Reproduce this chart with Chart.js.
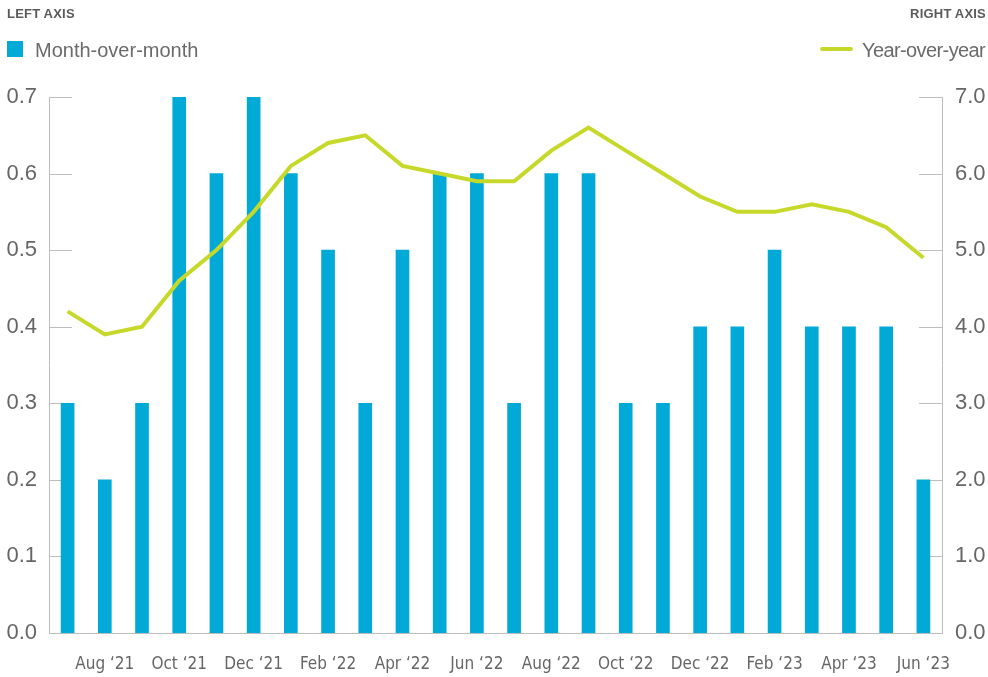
<!DOCTYPE html>
<html>
<head>
<meta charset="utf-8">
<script src="https://cdn.jsdelivr.net/npm/chart.js@4"></script>
<style>
  html, body { margin: 0; padding: 0; background: #fff; overflow: hidden; }
  #wrap { position: relative; width: 988px; height: 677px; overflow: hidden; font-family: 'Liberation Sans', Arial, sans-serif; color: #666; }
  .axisTitle { position: absolute; top: 6px; font-size: 13px; font-weight: bold; color: #5b5b5b; letter-spacing: 0.2px; }
  .leg { position: absolute; top: 39px; font-size: 20px; color: #6a6a6a; white-space: nowrap; }
  .sw { position: absolute; }
  canvas { position: absolute; left: 0; top: 0; }
</style>
</head>
<body>
<div id="wrap">
  <canvas id="myChart" width="988" height="677"></canvas>
  <div class="axisTitle" style="left:7px">LEFT AXIS</div>
  <div class="axisTitle" style="right:2px">RIGHT AXIS</div>
  <div class="sw" style="left:7px;top:41px;width:16px;height:16px;background:#00a9d6"></div>
  <div class="leg" style="left:35px">Month-over-month</div>
  <div class="sw" style="left:820px;top:47px;width:33px;height:4px;border-radius:2px;background:#c6d92a"></div>
  <div class="leg" style="left:862px;letter-spacing:-0.6px">Year-over-year</div>
</div>
<script>
const months = ['Jul \u201821', 'Aug \u201821', 'Sep \u201821', 'Oct \u201821', 'Nov \u201821', 'Dec \u201821',
  'Jan \u201822', 'Feb \u201822', 'Mar \u201822', 'Apr \u201822', 'May \u201822', 'Jun \u201822',
  'Jul \u201822', 'Aug \u201822', 'Sep \u201822', 'Oct \u201822', 'Nov \u201822', 'Dec \u201822',
  'Jan \u201823', 'Feb \u201823', 'Mar \u201823', 'Apr \u201823', 'May \u201823', 'Jun \u201823'];
const momValues = [0.3, 0.2, 0.3, 0.7, 0.6, 0.7, 0.6, 0.5, 0.3, 0.5, 0.6, 0.6,
  0.3, 0.6, 0.6, 0.3, 0.3, 0.4, 0.4, 0.5, 0.4, 0.4, 0.4, 0.2];
const yoyValues = [4.2, 3.9, 4.0, 4.6, 5.0, 5.5, 6.1, 6.4, 6.5, 6.1, 6.0, 5.9,
  5.9, 6.3, 6.6, 6.3, 6.0, 5.7, 5.5, 5.5, 5.6, 5.5, 5.3, 4.9];
const leftTicks = [0, 0.1, 0.2, 0.3, 0.4, 0.5, 0.6, 0.7];
const rightTicks = [0, 1, 2, 3, 4, 5, 6, 7];

const axisGray = '#bdbdbd';
const textGray = '#666';

// short tick marks pointing into the plot
const innerTicks = {
  id: 'innerTicks',
  beforeDatasetsDraw(chart) {
    const c = chart.ctx;
    const yl = chart.scales.y, yr = chart.scales.y1;
    c.save();
    c.strokeStyle = axisGray;
    c.lineWidth = 1;
    yl.ticks.forEach(t => {
      const py = Math.round(yl.getPixelForValue(t.value)) + 0.5;
      c.beginPath(); c.moveTo(yl.right, py); c.lineTo(yl.right + 23, py); c.stroke();
    });
    yr.ticks.forEach(t => {
      const py = Math.round(yr.getPixelForValue(t.value)) + 0.5;
      c.beginPath(); c.moveTo(yr.left - 23, py); c.lineTo(yr.left, py); c.stroke();
    });
    c.restore();
  }
};

const ctx = document.getElementById('myChart');
new Chart(ctx, {
  data: {
    labels: months,
    datasets: [
      {
        type: 'line',
        label: 'Year-over-year',
        data: yoyValues,
        yAxisID: 'y1',
        borderColor: '#c6d92a',
        borderWidth: 4,
        pointRadius: 0,
        tension: 0,
        order: 0
      },
      {
        type: 'bar',
        label: 'Month-over-month',
        data: momValues,
        yAxisID: 'y',
        backgroundColor: '#00a9d6',
        barThickness: 13,
        order: 1
      }
    ]
  },
  options: {
    responsive: false,
    animation: false,
    layout: { padding: { top: 97, left: 0, right: 0, bottom: 0 } },
    plugins: { legend: { display: false }, tooltip: { enabled: false } },
    scales: {
      x: {
        grid: { display: false, drawTicks: false },
        border: { display: true, color: axisGray, width: 1 },
        ticks: {
          autoSkip: false,
          maxRotation: 0,
          padding: 21,
          color: textGray,
          font: { family: "'Liberation Sans Narrow', 'DejaVu Sans Condensed', sans-serif", size: 17 },
          callback: (v, i) => (i % 2 === 1 ? months[i] : '')
        },
        afterFit: s => { s.height = 44; }
      },
      y: {
        position: 'left',
        min: 0, max: 0.7,
        afterBuildTicks: s => { s.ticks = leftTicks.map(v => ({ value: v })); },
        grid: { display: false, drawTicks: false },
        border: { display: true, color: axisGray, width: 1 },
        ticks: {
          padding: 12,
          color: textGray,
          font: { family: "'Liberation Sans', sans-serif", size: 22 },
          callback: v => v.toFixed(1)
        },
        afterFit: s => { s.width = 49; }
      },
      y1: {
        position: 'right',
        min: 0, max: 7,
        afterBuildTicks: s => { s.ticks = rightTicks.map(v => ({ value: v })); },
        grid: { display: false, drawTicks: false },
        border: { display: true, color: axisGray, width: 1 },
        ticks: {
          padding: 13,
          color: textGray,
          font: { family: "'Liberation Sans', sans-serif", size: 22 },
          callback: v => v.toFixed(1)
        },
        afterFit: s => { s.width = 46; }
      }
    }
  },
  plugins: [innerTicks]
});
</script>
</body>
</html>
